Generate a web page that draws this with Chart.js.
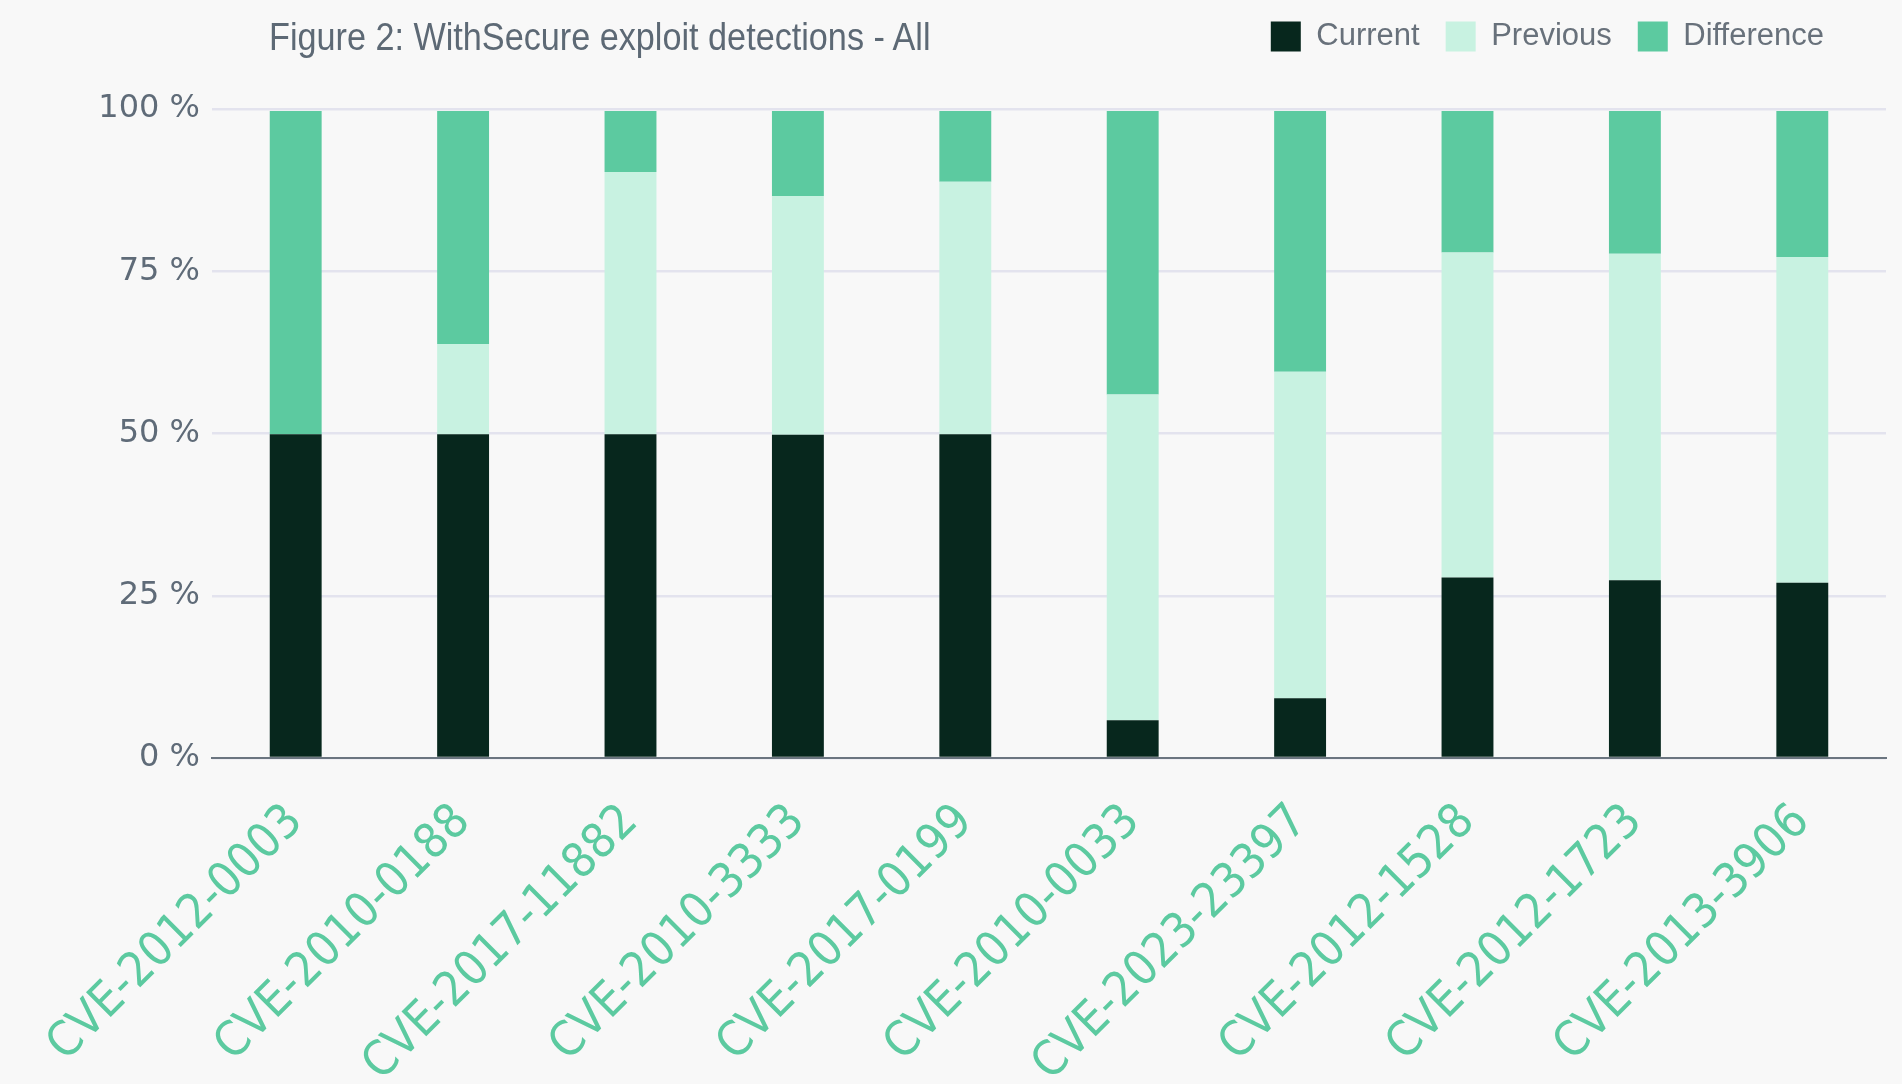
<!DOCTYPE html>
<html>
<head>
<meta charset="utf-8">
<script src="https://cdn.jsdelivr.net/npm/chart.js@4.4.1/dist/chart.umd.min.js"></script>
<style>
  html, body { margin: 0; padding: 0; background: #f8f8f8; }
  #wrap { position: relative; width: 1902px; height: 1084px; }
  #title {
    position: absolute; left: 269px; top: 18px;
    font-family: "Liberation Sans", sans-serif; font-size: 38px; line-height: 38px;
    color: #5d6975; white-space: nowrap;
    transform: scaleX(0.9); transform-origin: left center;
  }
</style>
</head>
<body>
<div id="wrap">
  <div id="title">Figure 2: WithSecure exploit detections - All</div>
  <canvas id="myChart" width="1902" height="1084"></canvas>
</div>
<script>
// exploit names on the x axis
let cves = ['CVE-2012-0003', 'CVE-2010-0188', 'CVE-2017-11882', 'CVE-2010-3333', 'CVE-2017-0199',
  'CVE-2010-0033', 'CVE-2023-23397', 'CVE-2012-1528', 'CVE-2012-1723', 'CVE-2013-3906'];

// share of detections, percent
let current = [49.9, 49.9, 49.9, 49.8, 49.9, 5.8, 9.2, 27.8, 27.4, 27.0];
let previous = [0, 13.9, 40.4, 36.8, 38.9, 50.2, 50.3, 50.1, 50.3, 50.2];
let difference = [49.8, 35.9, 9.4, 13.1, 10.9, 43.7, 40.2, 21.8, 22.0, 22.5];

let yTicks = [0, 25, 50, 75, 100];

// move the legend to where the original has it
let legendShift = {
  id: 'legendShift',
  afterLayout(chart) {
    let lg = chart.legend;
    if (!lg) return;
    lg.left -= 36; lg.right -= 36;
    lg.top -= 47; lg.bottom -= 47;
  }
};

let ctx = document.getElementById('myChart').getContext('2d');

let chart = new Chart(ctx, {
  type: 'bar',
  data: {
    labels: cves,
    datasets: [
      { label: 'Current', data: current, backgroundColor: '#07271d' },
      { label: 'Previous', data: previous, backgroundColor: '#c8f2e1' },
      { label: 'Difference', data: difference, backgroundColor: '#5ccaa0' }
    ]
  },
  options: {
    responsive: false,
    animation: false,
    layout: { padding: { left: 0, right: 16, top: 42, bottom: 0 } },
    datasets: { bar: { categoryPercentage: 1, barPercentage: 0.31 } },
    plugins: {
      title: { display: false },
      tooltip: { enabled: false },
      legend: {
        position: 'top',
        align: 'end',
        labels: {
          boxWidth: 30, boxHeight: 30, padding: 26,
          color: '#68717b',
          font: { family: 'Liberation Sans', size: 31 }
        }
      }
    },
    scales: {
      x: {
        stacked: true,
        grid: { display: false, drawTicks: false },
        border: { display: true, color: '#6b7580', width: 2 },
        ticks: {
          color: '#5ccaa0',
          font: { family: "'DejaVu Sans Condensed', 'DejaVu Sans'", size: 48 },
          minRotation: 45, maxRotation: 45,
          padding: 36
        },
        afterFit(scale) { scale.height = 326; }
      },
      y: {
        stacked: true,
        min: 0, max: 100,
        afterBuildTicks(scale) { scale.ticks = yTicks.map(v => ({ value: v })); },
        grid: { color: '#e3e3ee', lineWidth: 2.5, drawTicks: false },
        border: { display: false },
        ticks: {
          color: '#5f6b78',
          font: { family: 'DejaVu Sans', size: 32 },
          padding: 12,
          callback: v => v + ' %'
        },
        afterFit(scale) { scale.width = 212; }
      }
    }
  },
  plugins: [legendShift]
});
</script>
</body>
</html>
